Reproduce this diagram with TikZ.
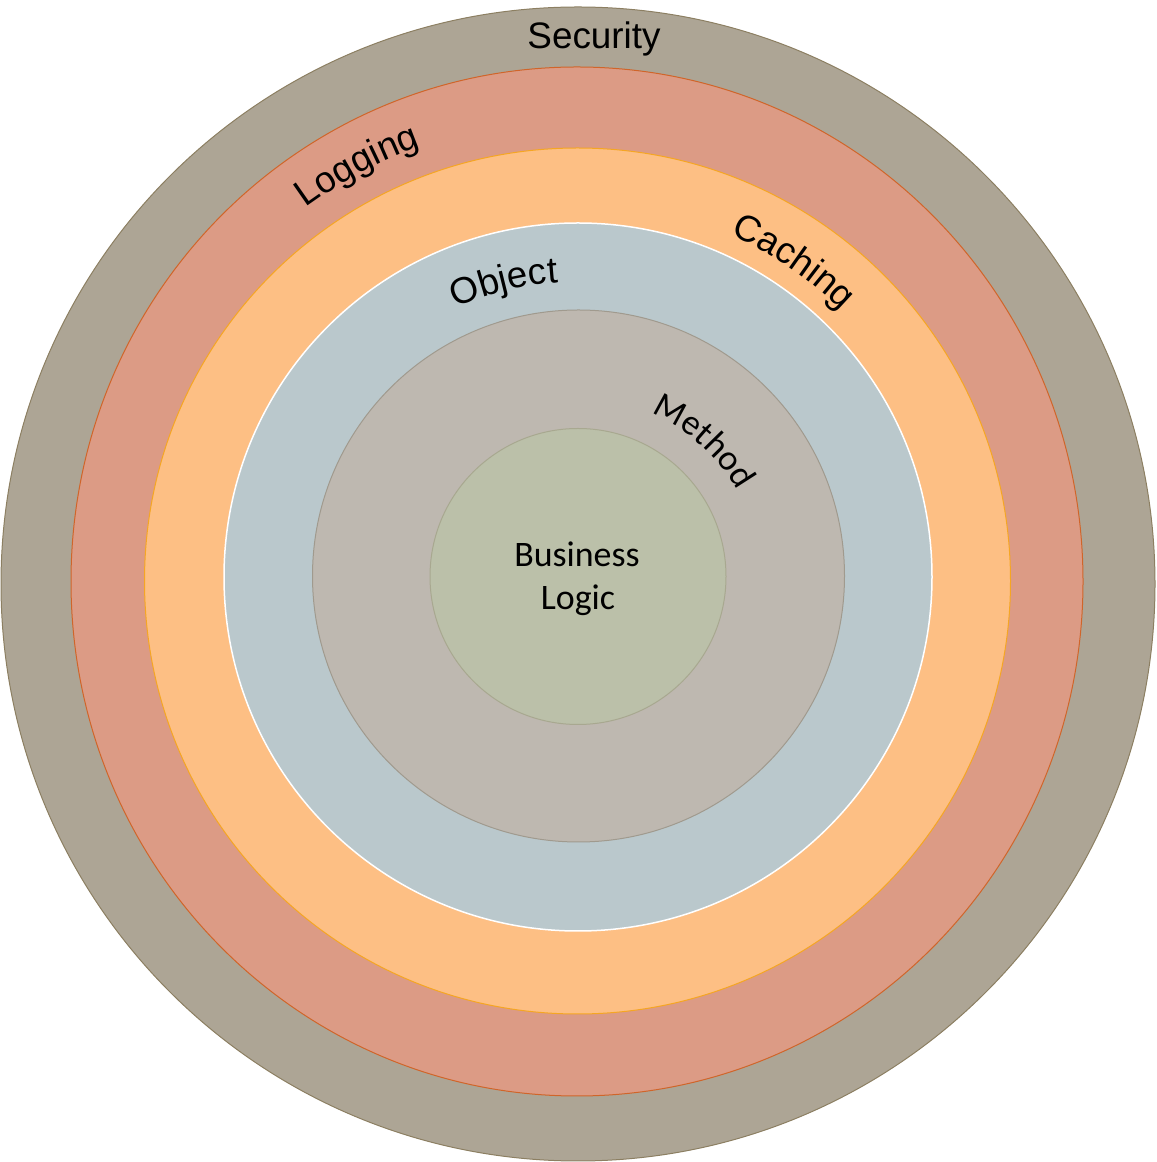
\documentclass[tikz,border=0pt]{standalone}
\usepackage{fontspec}
\setmainfont{Liberation Sans}
\newfontfamily\arialf{Liberation Sans}
\newfontfamily\gillf{Carlito}
\usetikzlibrary{decorations.text}
\definecolor{secF}{HTML}{ADA595}
\definecolor{secD}{HTML}{8C7F62}
\definecolor{logF}{HTML}{DC9B85}
\definecolor{logD}{HTML}{D0652A}
\definecolor{cacF}{HTML}{FDBF84}
\definecolor{cacD}{HTML}{F5A623}
\definecolor{objF}{HTML}{BAC8CC}
\definecolor{metF}{HTML}{BEB8B0}
\definecolor{metD}{HTML}{A09A8E}
\definecolor{busF}{HTML}{BBC0A9}
\definecolor{busD}{HTML}{A8A890}
\tikzset{
  ring/.style={line width=1bp},
  arclabel/.style={decorate, decoration={text along path, text align=center, text color=black}},
}
\newcommand{\afont}{\arialf\fontsize{37}{44}\selectfont}
\newcommand{\gfont}{\gillf\fontsize{36}{43}\selectfont}
\begin{document}
\begin{tikzpicture}[x=1bp,y=1bp]
\useasboundingbox (0,0) rectangle (1157,1162);
\coordinate (c) at (578,581);
% rings
\draw[ring, fill=secF, draw=secD] (578,578) circle (577);
\draw[ring, fill=logF, draw=logD] (577,580.5) ellipse [x radius=506, y radius=514.5];
\draw[ring, fill=cacF, draw=cacD] (577.5,581) circle (433);
\draw[line width=1.5bp, fill=objF, draw=white] (578,585) circle (354);
\draw[ring, fill=metF, draw=metD] (578.5,586) circle (266);
\draw[ring, fill=busF, draw=busD] (578,585.5) circle (148);
% labels
\node[anchor=base, font=\afont, inner sep=0] (sec) at (594,1113) {Security};
\path[arclabel, decoration={text={|\afont|Logging}}] (c) ++(150:462) arc (150:86:462);
\path[arclabel, decoration={text={|\afont|Caching}}] (c) ++(90:378) arc (90:22:378);
\path[arclabel, decoration={text={|\afont|Object}}] (c) ++(140:299) arc (140:68:299);
\path[arclabel, decoration={text={|\gfont|Method}}] (c) ++(90:183) arc (90:6:183);
\node[anchor=base, font=\gfont, inner sep=0] (bus1) at (577,595) {Business};
\node[anchor=base, font=\gfont, inner sep=0] (bus2) at (578,552) {Logic};
\end{tikzpicture}
\end{document}
